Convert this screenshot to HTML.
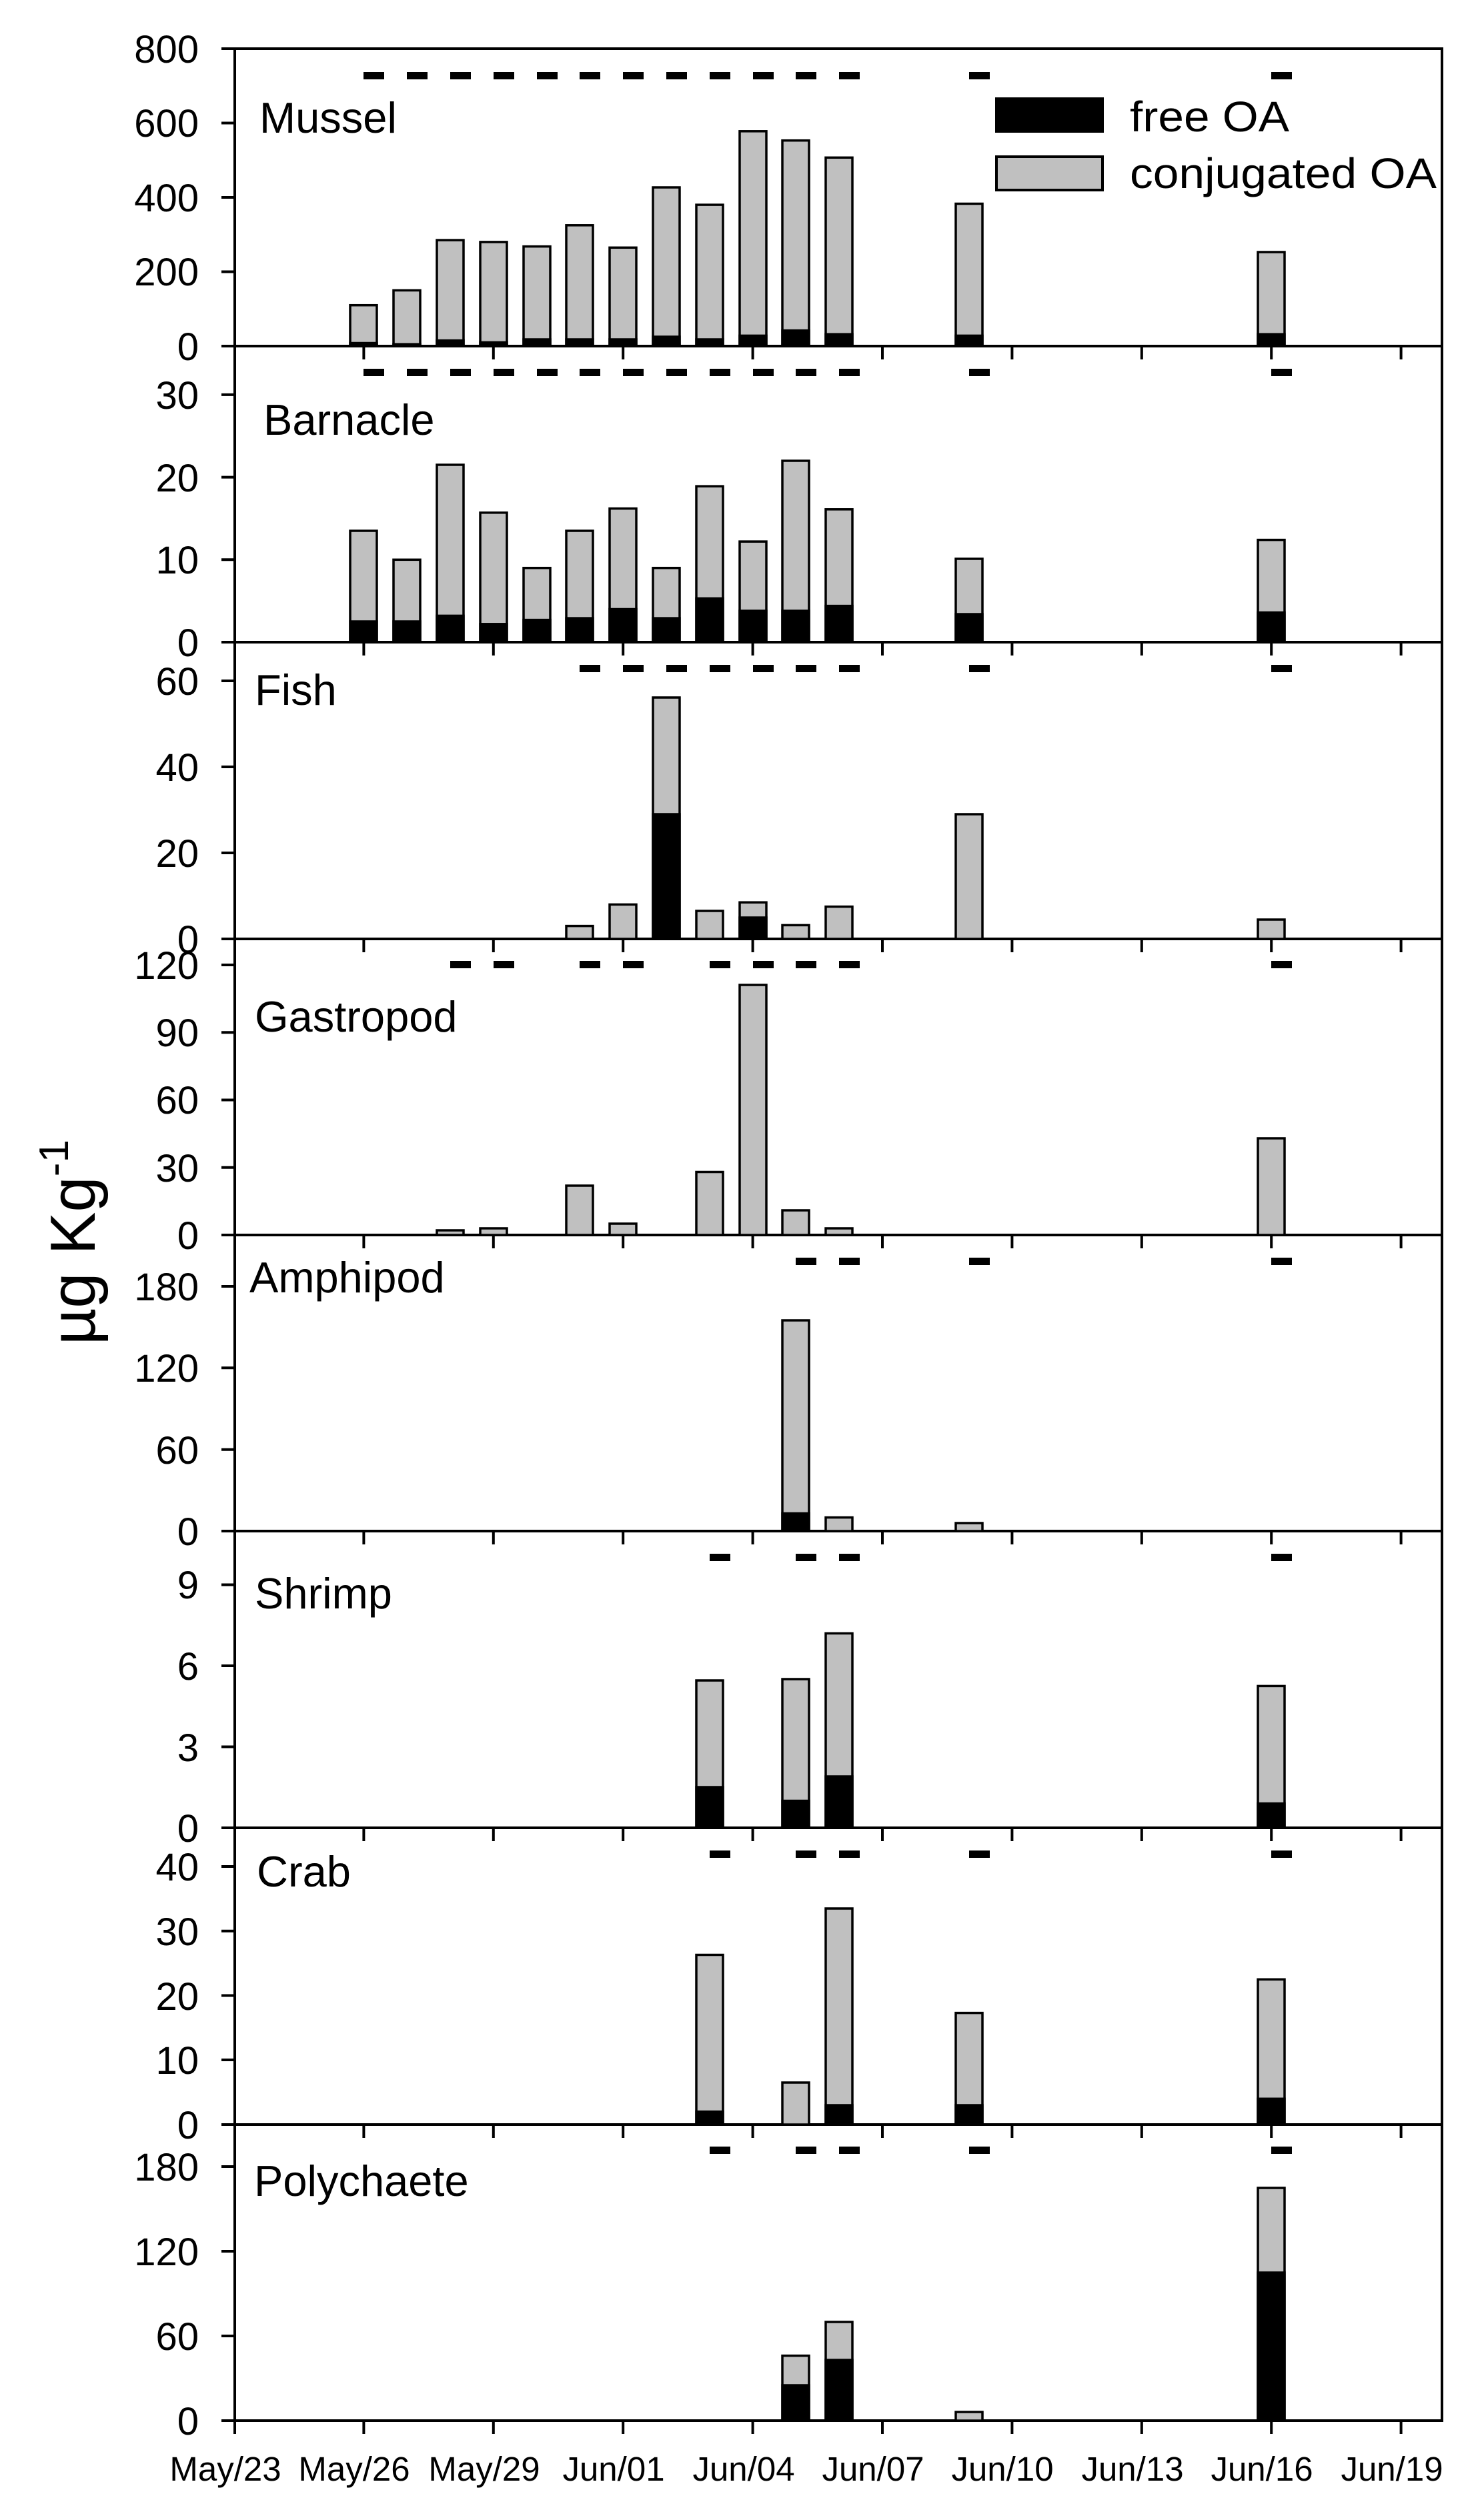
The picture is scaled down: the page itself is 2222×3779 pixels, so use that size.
<!DOCTYPE html>
<html><head><meta charset="utf-8"><style>html,body{margin:0;padding:0;background:#fff}svg{display:block}</style></head>
<body>
<svg width="2222" height="3779" viewBox="0 0 2222 3779" xmlns="http://www.w3.org/2000/svg" font-family="Liberation Sans, sans-serif">
<rect width="2222" height="3779" fill="#fff"/>
<!-- frame -->
<g stroke="#000" stroke-width="4" fill="none">
<line x1="332" y1="73" x2="2162" y2="73"/>
<line x1="352" y1="71" x2="352" y2="3650"/>
<line x1="2162" y1="71" x2="2162" y2="3632"/>
<line x1="332" y1="519" x2="2162" y2="519"/>
<line x1="332" y1="963" x2="2162" y2="963"/>
<line x1="332" y1="1408" x2="2162" y2="1408"/>
<line x1="332" y1="1852" x2="2162" y2="1852"/>
<line x1="332" y1="2296" x2="2162" y2="2296"/>
<line x1="332" y1="2741" x2="2162" y2="2741"/>
<line x1="332" y1="3186" x2="2162" y2="3186"/>
<line x1="332" y1="3630" x2="2162" y2="3630"/>
</g>
<!-- x ticks -->
<g stroke="#000" stroke-width="4" id="xt">
<path d="M545.4 519v20M739.8 519v20M934.2 519v20M1128.6 519v20M1323 519v20M1517.4 519v20M1711.8 519v20M1906.2 519v20M2100.6 519v20
M545.4 963v20M739.8 963v20M934.2 963v20M1128.6 963v20M1323 963v20M1517.4 963v20M1711.8 963v20M1906.2 963v20M2100.6 963v20
M545.4 1408v20M739.8 1408v20M934.2 1408v20M1128.6 1408v20M1323 1408v20M1517.4 1408v20M1711.8 1408v20M1906.2 1408v20M2100.6 1408v20
M545.4 1852v20M739.8 1852v20M934.2 1852v20M1128.6 1852v20M1323 1852v20M1517.4 1852v20M1711.8 1852v20M1906.2 1852v20M2100.6 1852v20
M545.4 2296v20M739.8 2296v20M934.2 2296v20M1128.6 2296v20M1323 2296v20M1517.4 2296v20M1711.8 2296v20M1906.2 2296v20M2100.6 2296v20
M545.4 2741v20M739.8 2741v20M934.2 2741v20M1128.6 2741v20M1323 2741v20M1517.4 2741v20M1711.8 2741v20M1906.2 2741v20M2100.6 2741v20
M545.4 3186v20M739.8 3186v20M934.2 3186v20M1128.6 3186v20M1323 3186v20M1517.4 3186v20M1711.8 3186v20M1906.2 3186v20M2100.6 3186v20
M545.4 3630v20M739.8 3630v20M934.2 3630v20M1128.6 3630v20M1323 3630v20M1517.4 3630v20M1711.8 3630v20M1906.2 3630v20M2100.6 3630v20"/>
<!-- y ticks -->
<path d="M332 407.5h20M332 296h20M332 184.5h20
M332 839.3h20M332 715.6h20M332 591.9h20
M332 1279h20M332 1150h20M332 1021h20
M332 1750.75h20M332 1649.5h20M332 1548.25h20M332 1447h20
M332 2173.7h20M332 2051.3h20M332 1929h20
M332 2619.5h20M332 2498h20M332 2376.5h20
M332 3089h20M332 2992.5h20M332 2895.8h20M332 2799h20
M332 3503h20M332 3376h20M332 3249h20"/>
</g>
<!-- y tick labels -->
<g font-size="58" text-anchor="end" fill="#000">
<text x="298" y="540">0</text><text x="298" y="428">200</text><text x="298" y="317">400</text><text x="298" y="205">600</text><text x="298" y="94">800</text>
<text x="298" y="984">0</text><text x="298" y="860">10</text><text x="298" y="737">20</text><text x="298" y="613">30</text>
<text x="298" y="1429">0</text><text x="298" y="1300">20</text><text x="298" y="1171">40</text><text x="298" y="1042">60</text>
<text x="298" y="1873">0</text><text x="298" y="1772">30</text><text x="298" y="1670">60</text><text x="298" y="1569">90</text><text x="298" y="1468">120</text>
<text x="298" y="2317">0</text><text x="298" y="2195">60</text><text x="298" y="2072">120</text><text x="298" y="1950">180</text>
<text x="298" y="2762">0</text><text x="298" y="2641">3</text><text x="298" y="2519">6</text><text x="298" y="2397">9</text>
<text x="298" y="3207">0</text><text x="298" y="3110">10</text><text x="298" y="3014">20</text><text x="298" y="2917">30</text><text x="298" y="2820">40</text>
<text x="298" y="3651">0</text><text x="298" y="3524">60</text><text x="298" y="3397">120</text><text x="298" y="3270">180</text>
</g>
<!-- x labels -->
<g font-size="51" text-anchor="middle" fill="#000">
<text x="338" y="3720">May/23</text><text x="531" y="3720">May/26</text><text x="726" y="3720">May/29</text><text x="920" y="3720">Jun/01</text><text x="1115" y="3720">Jun/04</text><text x="1309" y="3720">Jun/07</text><text x="1503" y="3720">Jun/10</text><text x="1698" y="3720">Jun/13</text><text x="1892" y="3720">Jun/16</text><text x="2087" y="3720">Jun/19</text>
</g>
<!-- panel labels -->
<g font-size="65" fill="#000">
<text x="389" y="199">Mussel</text>
<text x="395" y="652">Barnacle</text>
<text x="382" y="1057">Fish</text>
<text x="382" y="1547">Gastropod</text>
<text x="374" y="1938">Amphipod</text>
<text x="382" y="2412">Shrimp</text>
<text x="385" y="2829">Crab</text>
<text x="381" y="3293">Polychaete</text>
</g>
<!-- y axis title -->
<text transform="translate(142,2017) rotate(-90)" font-size="96" fill="#000">µg Kg<tspan font-size="62" dy="-40">-1</tspan></text>
<!-- legend -->
<rect x="1492" y="146" width="163" height="53" fill="#000"/>
<rect x="1494" y="235" width="159" height="50" fill="#c0c0c0" stroke="#000" stroke-width="4"/>
<text x="1694" y="197" font-size="64" textLength="239" lengthAdjust="spacingAndGlyphs">free OA</text>
<text x="1694" y="282" font-size="64" textLength="460" lengthAdjust="spacingAndGlyphs">conjugated OA</text>
<!-- dashes -->
<g fill="#000">
<!-- mussel -->
<rect x="545" y="108" width="31" height="11"/><rect x="610" y="108" width="31" height="11"/><rect x="675" y="108" width="31" height="11"/><rect x="740" y="108" width="31" height="11"/><rect x="805" y="108" width="31" height="11"/><rect x="869" y="108" width="31" height="11"/><rect x="934" y="108" width="31" height="11"/><rect x="999" y="108" width="31" height="11"/><rect x="1064" y="108" width="31" height="11"/><rect x="1129" y="108" width="31" height="11"/><rect x="1193" y="108" width="31" height="11"/><rect x="1258" y="108" width="31" height="11"/><rect x="1453" y="108" width="31" height="11"/><rect x="1906" y="108" width="31" height="11"/>
<!-- barnacle -->
<rect x="545" y="553" width="31" height="11"/><rect x="610" y="553" width="31" height="11"/><rect x="675" y="553" width="31" height="11"/><rect x="740" y="553" width="31" height="11"/><rect x="805" y="553" width="31" height="11"/><rect x="869" y="553" width="31" height="11"/><rect x="934" y="553" width="31" height="11"/><rect x="999" y="553" width="31" height="11"/><rect x="1064" y="553" width="31" height="11"/><rect x="1129" y="553" width="31" height="11"/><rect x="1193" y="553" width="31" height="11"/><rect x="1258" y="553" width="31" height="11"/><rect x="1453" y="553" width="31" height="11"/><rect x="1906" y="553" width="31" height="11"/>
<!-- fish -->
<rect x="869" y="997" width="31" height="11"/><rect x="934" y="997" width="31" height="11"/><rect x="999" y="997" width="31" height="11"/><rect x="1064" y="997" width="31" height="11"/><rect x="1129" y="997" width="31" height="11"/><rect x="1193" y="997" width="31" height="11"/><rect x="1258" y="997" width="31" height="11"/><rect x="1453" y="997" width="31" height="11"/><rect x="1906" y="997" width="31" height="11"/>
<!-- gastropod -->
<rect x="675" y="1441" width="31" height="11"/><rect x="740" y="1441" width="31" height="11"/><rect x="869" y="1441" width="31" height="11"/><rect x="934" y="1441" width="31" height="11"/><rect x="1064" y="1441" width="31" height="11"/><rect x="1129" y="1441" width="31" height="11"/><rect x="1193" y="1441" width="31" height="11"/><rect x="1258" y="1441" width="31" height="11"/><rect x="1906" y="1441" width="31" height="11"/>
<!-- amphipod -->
<rect x="1193" y="1886" width="31" height="11"/><rect x="1258" y="1886" width="31" height="11"/><rect x="1453" y="1886" width="31" height="11"/><rect x="1906" y="1886" width="31" height="11"/>
<!-- shrimp -->
<rect x="1064" y="2330" width="31" height="11"/><rect x="1193" y="2330" width="31" height="11"/><rect x="1258" y="2330" width="31" height="11"/><rect x="1906" y="2330" width="31" height="11"/>
<!-- crab -->
<rect x="1064" y="2775" width="31" height="11"/><rect x="1193" y="2775" width="31" height="11"/><rect x="1258" y="2775" width="31" height="11"/><rect x="1453" y="2775" width="31" height="11"/><rect x="1906" y="2775" width="31" height="11"/>
<!-- polychaete -->
<rect x="1064" y="3219" width="31" height="11"/><rect x="1193" y="3219" width="31" height="11"/><rect x="1258" y="3219" width="31" height="11"/><rect x="1453" y="3219" width="31" height="11"/><rect x="1906" y="3219" width="31" height="11"/>
</g>
<!-- gray bars -->
<g fill="#c0c0c0" stroke="#000" stroke-width="3.5">
<!-- mussel zero 519 -->
<rect x="525" y="457.7" width="40" height="61.3"/><rect x="590" y="435.4" width="40" height="83.6"/><rect x="655" y="360.1" width="40" height="158.9"/><rect x="720" y="362.9" width="40" height="156.1"/><rect x="785" y="369.6" width="40" height="149.4"/><rect x="849" y="337.8" width="40" height="181.2"/><rect x="914" y="371.3" width="40" height="147.7"/><rect x="979" y="281" width="40" height="238"/><rect x="1044" y="307.1" width="40" height="211.9"/><rect x="1109" y="196.8" width="40" height="322.2"/><rect x="1173" y="210.7" width="40" height="308.3"/><rect x="1238" y="236.3" width="40" height="282.7"/><rect x="1433" y="305.5" width="40" height="213.5"/><rect x="1886" y="378" width="40" height="141"/>
<!-- barnacle zero 963 -->
<rect x="525" y="796" width="40" height="167"/><rect x="590" y="839.3" width="40" height="123.7"/><rect x="655" y="697" width="40" height="266"/><rect x="720" y="768.8" width="40" height="194.2"/><rect x="785" y="851.7" width="40" height="111.3"/><rect x="849" y="796" width="40" height="167"/><rect x="914" y="762.6" width="40" height="200.4"/><rect x="979" y="851.7" width="40" height="111.3"/><rect x="1044" y="729.2" width="40" height="233.8"/><rect x="1109" y="812.1" width="40" height="150.9"/><rect x="1173" y="691" width="40" height="272"/><rect x="1238" y="763.8" width="40" height="199.2"/><rect x="1433" y="838" width="40" height="125"/><rect x="1886" y="809.6" width="40" height="153.4"/>
<!-- fish zero 1408 -->
<rect x="849" y="1388.6" width="40" height="19.4"/><rect x="914" y="1356.4" width="40" height="51.6"/><rect x="979" y="1046" width="40" height="362"/><rect x="1044" y="1366" width="40" height="42"/><rect x="1109" y="1353.2" width="40" height="54.8"/><rect x="1173" y="1387.4" width="40" height="20.6"/><rect x="1238" y="1359.6" width="40" height="48.4"/><rect x="1433" y="1221" width="40" height="187"/><rect x="1886" y="1379" width="40" height="29"/>
<!-- gastropod zero 1852 -->
<rect x="655" y="1845" width="40" height="7"/><rect x="720" y="1842" width="40" height="10"/><rect x="849" y="1778" width="40" height="74"/><rect x="914" y="1835" width="40" height="17"/><rect x="1044" y="1757.5" width="40" height="94.5"/><rect x="1109" y="1477" width="40" height="375"/><rect x="1173" y="1815" width="40" height="37"/><rect x="1238" y="1842" width="40" height="10"/><rect x="1886" y="1707" width="40" height="145"/>
<!-- amphipod zero 2296 -->
<rect x="1173" y="1980" width="40" height="316"/><rect x="1238" y="2275.6" width="40" height="20.4"/><rect x="1433" y="2284" width="40" height="12"/>
<!-- shrimp zero 2741 -->
<rect x="1044" y="2520" width="40" height="221"/><rect x="1173" y="2518" width="40" height="223"/><rect x="1238" y="2449.4" width="40" height="291.6"/><rect x="1886" y="2528.4" width="40" height="212.6"/>
<!-- crab zero 3186 -->
<rect x="1044" y="2931.5" width="40" height="254.5"/><rect x="1173" y="3123" width="40" height="63"/><rect x="1238" y="2862" width="40" height="324"/><rect x="1433" y="3018.6" width="40" height="167.4"/><rect x="1886" y="2968.3" width="40" height="217.7"/>
<!-- polychaete zero 3630 -->
<rect x="1173" y="3532.6" width="40" height="97.4"/><rect x="1238" y="3482" width="40" height="148"/><rect x="1433" y="3617" width="40" height="13"/><rect x="1886" y="3281" width="40" height="349"/>
</g>
<!-- free OA (black) -->
<g fill="#000" stroke="#000" stroke-width="3.5">
<rect x="525" y="514.5" width="40" height="4.5"/><rect x="590" y="516.2" width="40" height="2.8"/><rect x="655" y="510.6" width="40" height="8.4"/><rect x="720" y="513.4" width="40" height="5.6"/><rect x="785" y="509" width="40" height="10"/><rect x="849" y="509" width="40" height="10"/><rect x="914" y="509" width="40" height="10"/><rect x="979" y="505" width="40" height="14"/><rect x="1044" y="509" width="40" height="10"/><rect x="1109" y="503.4" width="40" height="15.6"/><rect x="1173" y="495.6" width="40" height="23.4"/><rect x="1238" y="501.2" width="40" height="17.8"/><rect x="1433" y="503.4" width="40" height="15.6"/><rect x="1886" y="501.2" width="40" height="17.8"/>
<rect x="525" y="932" width="40" height="31"/><rect x="590" y="932" width="40" height="31"/><rect x="655" y="923.4" width="40" height="39.6"/><rect x="720" y="935.8" width="40" height="27.2"/><rect x="785" y="929.6" width="40" height="33.4"/><rect x="849" y="927.1" width="40" height="35.9"/><rect x="914" y="913.5" width="40" height="49.5"/><rect x="979" y="927.1" width="40" height="35.9"/><rect x="1044" y="897.4" width="40" height="65.6"/><rect x="1109" y="916" width="40" height="47"/><rect x="1173" y="916" width="40" height="47"/><rect x="1238" y="908.6" width="40" height="54.4"/><rect x="1433" y="921" width="40" height="42"/><rect x="1886" y="918.5" width="40" height="44.5"/>
<rect x="979" y="1221" width="40" height="187"/><rect x="1109" y="1376" width="40" height="32"/>
<rect x="1173" y="2269.5" width="40" height="26.5"/>
<rect x="1044" y="2680" width="40" height="61"/><rect x="1173" y="2700.5" width="40" height="40.5"/><rect x="1238" y="2664" width="40" height="77"/><rect x="1886" y="2704.5" width="40" height="36.5"/>
<rect x="1044" y="3166.6" width="40" height="19.4"/><rect x="1238" y="3157" width="40" height="29"/><rect x="1433" y="3157" width="40" height="29"/><rect x="1886" y="3147.3" width="40" height="38.7"/>
<rect x="1173" y="3577" width="40" height="53"/><rect x="1238" y="3539" width="40" height="91"/><rect x="1886" y="3408" width="40" height="222"/>
</g>
</svg>
</body></html>
